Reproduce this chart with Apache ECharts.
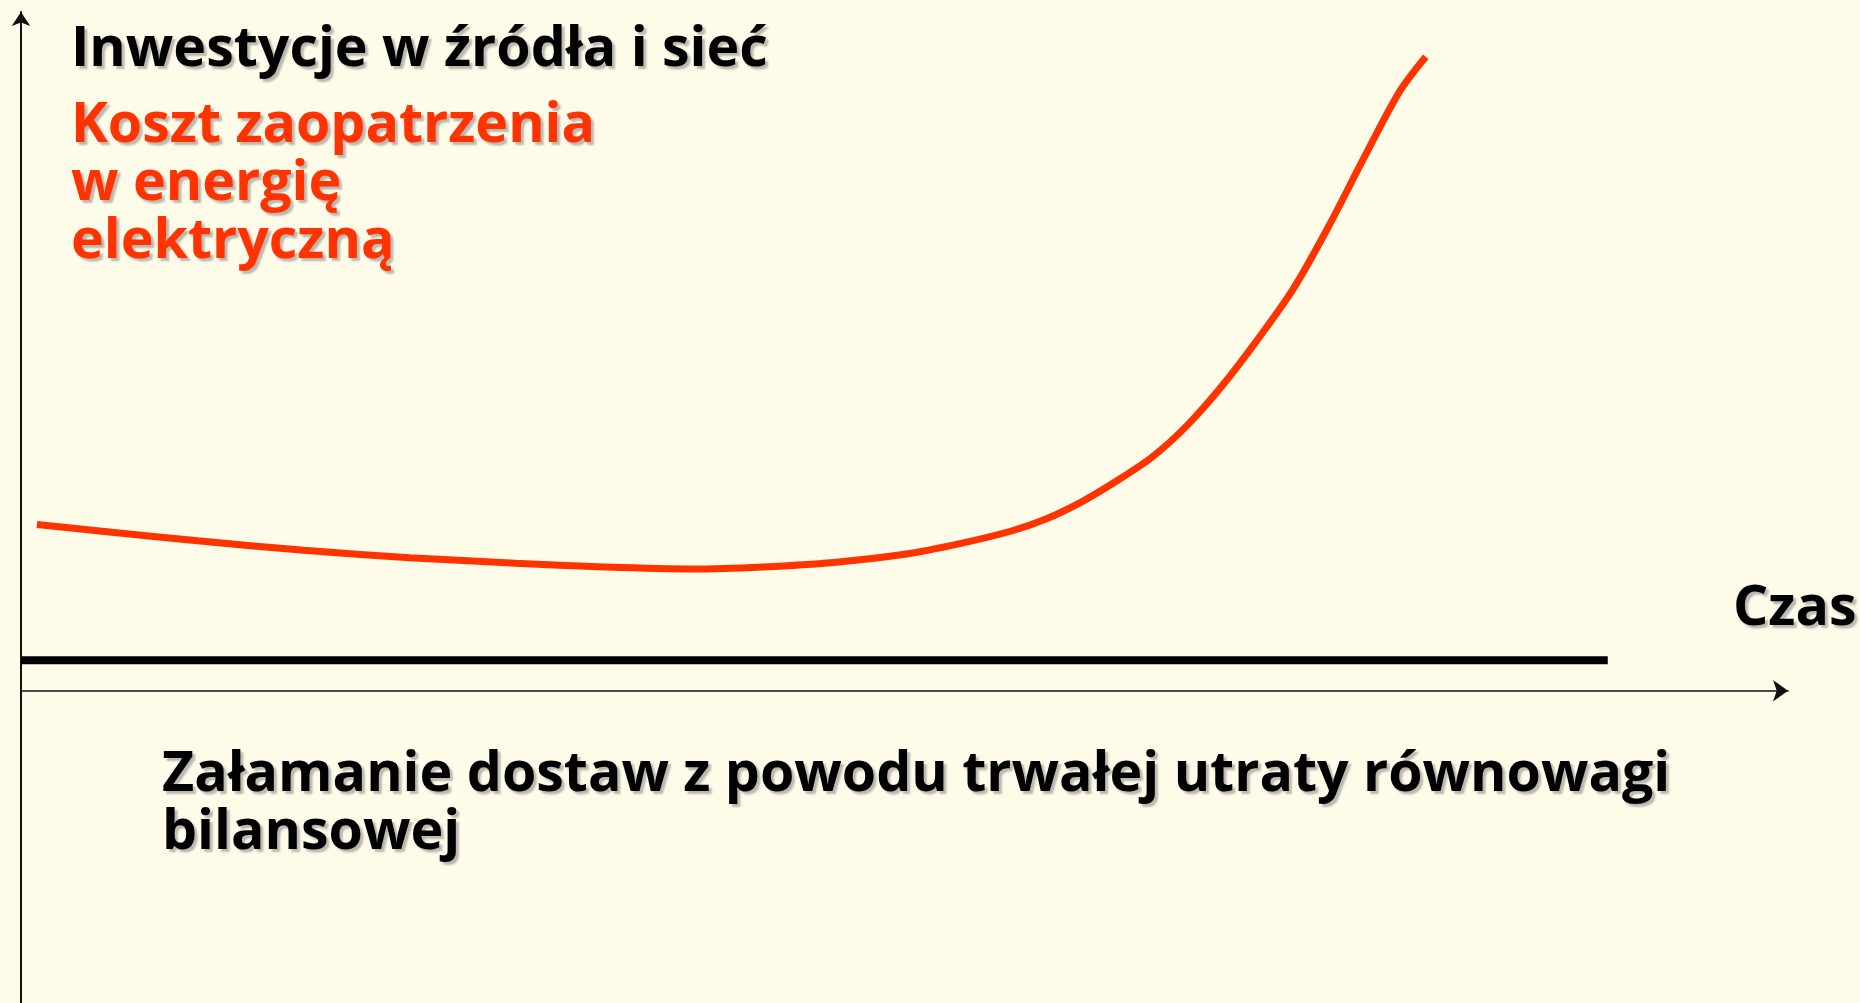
<!DOCTYPE html>
<html>
<head>
<meta charset="utf-8">
<script src="https://cdn.jsdelivr.net/npm/echarts@6/dist/echarts.min.js"></script>
<style>
html,body{margin:0;padding:0;background:#FEFBE8;}
#c{width:1860px;height:1003px;}
</style>
</head>
<body>
<div id="c"></div>
<script>
// Time (x) and cost (y) of the red curve, in chart units
var timeValues = [0.9, 5, 10, 16, 22, 28, 33, 38, 42, 46, 50, 53, 56, 58, 60, 62, 64, 66, 68, 70, 72, 74, 76, 78, 79.5];
var costValues = [24.5, 23.4, 22.1, 20.7, 19.6, 18.8, 18.25, 17.95, 18.25, 18.9, 20.1, 21.6, 23.5, 25.3, 27.8, 30.9, 34.4, 39.1, 45.0, 51.8, 59.2, 68.4, 78.5, 88.2, 93.4];
// Black flat line (supply collapse level)
var flatTime = [0, 89.8];
var flatLevel = [4.5, 4.5];
// Texts
var titleText = 'Inwestycje w źródła i sieć';
var costLabel = 'Koszt zaopatrzenia\nw energię\nelektryczną';
var timeLabel = 'Czas';
var bottomText = 'Załamanie dostaw z powodu trwałej utraty równowagi\nbilansowej';

var costData = timeValues.map(function (t, i) { return [t, costValues[i]]; });
var flatData = flatTime.map(function (t, i) { return [t, flatLevel[i]]; });

var FONT = '"Open Sans"';
function txt(text, x, y, color, lh) {
  return {
    type: 'text', x: x, y: y, z: 10,
    style: {
      text: text, fill: color,
      fontFamily: FONT, fontWeight: 'bold', fontSize: 55.5,
      lineHeight: lh || 58,
      verticalAlign: 'top', align: 'left',
      textShadowColor: 'rgba(140,140,140,0.6)',
      textShadowOffsetX: 3, textShadowOffsetY: 3, textShadowBlur: 2
    }
  };
}

var chart = echarts.init(document.getElementById('c'), null, {renderer: 'canvas'});
chart.setOption({
  backgroundColor: '#FEFBE8',
  animation: false,
  grid: {left: 21, right: 72, top: 12, bottom: 0},
  xAxis: {
    type: 'value', min: 0, max: 100,
    axisLine: {show: true, onZero: true, symbol: ['none', 'arrow'], symbolSize: [16, 15],
      lineStyle: {color: '#111', width: 1.6}},
    axisTick: {show: false}, axisLabel: {show: false}, splitLine: {show: false}
  },
  yAxis: {
    type: 'value', min: -46, max: 100,
    axisLine: {show: true, onZero: false, symbol: ['none', 'arrow'], symbolSize: [14, 14],
      lineStyle: {color: '#111', width: 2}},
    axisTick: {show: false}, axisLabel: {show: false}, splitLine: {show: false}
  },
  series: [
    {
      type: 'line', data: flatData, showSymbol: false, silent: true,
      lineStyle: {color: '#000', width: 8, cap: 'butt'}
    },
    {
      type: 'line', data: costData, smooth: 0.3, showSymbol: false, silent: true,
      lineStyle: {color: '#FF3300', width: 7, cap: 'butt'}
    }
  ],
  graphic: [
    txt(titleText, 71, 21, '#000'),
    txt(costLabel, 71, 97, '#FF3300'),
    txt(timeLabel, 1733, 580, '#000'),
    txt(bottomText, 162, 746, '#000')
  ]
});
</script>
</body>
</html>
